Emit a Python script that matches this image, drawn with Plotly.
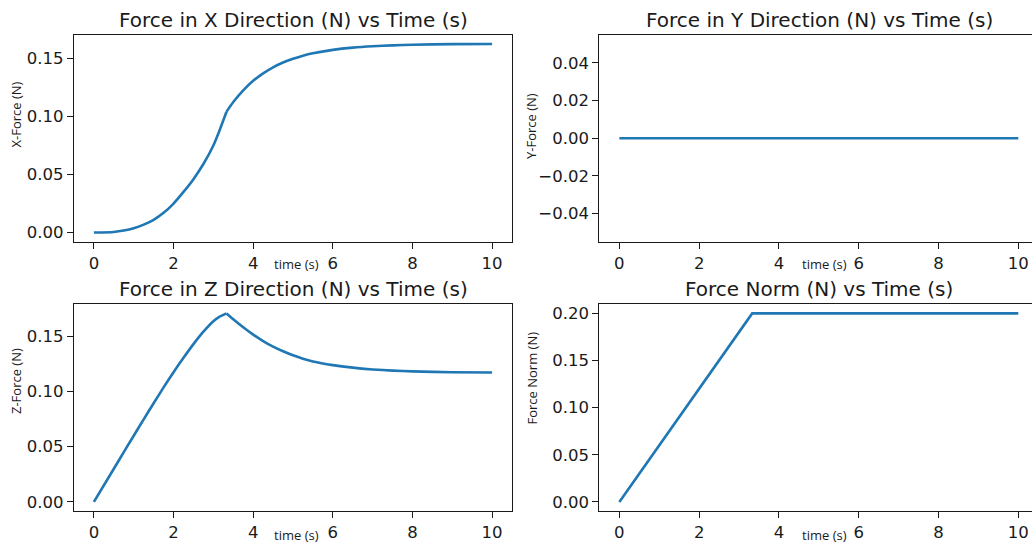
import plotly.graph_objects as go

# ---------------- data ----------------
time_s = [0, 0.5, 0.75, 1, 1.25, 1.5, 1.75, 2, 2.25, 2.5, 2.75, 3, 3.15, 3.33,
          3.5, 3.75, 4, 4.25, 4.5, 4.75, 5, 5.25, 5.5, 6, 6.5, 7, 7.5, 8, 9, 10]
force_x = [0.0, 0.0005, 0.0017, 0.0037, 0.0068, 0.011, 0.017, 0.025, 0.035, 0.046, 0.059, 0.075, 0.0875, 0.104,
           0.1124, 0.1225, 0.1307, 0.1371, 0.1423, 0.1464, 0.1496, 0.1523, 0.1544, 0.1573, 0.1592, 0.1604,
           0.1612, 0.1617, 0.1622, 0.1624]
force_z = [0.0, 0.0300, 0.0450, 0.0599, 0.0747, 0.0893, 0.1036, 0.1174, 0.1304, 0.1428, 0.1541, 0.1636, 0.1675, 0.1706,
           0.1654, 0.1581, 0.1514, 0.1456, 0.1405, 0.1363, 0.1327, 0.1296, 0.1271, 0.1238, 0.1215, 0.1199,
           0.1188, 0.1181, 0.1174, 0.1171]
kink_time = 3.33
time_y = [0, 10]
force_y = [0.0, 0.0]
time_norm = [0, 3.33, 10]
force_norm = [0.0, 0.2, 0.2]

x_ticks = [0, 2, 4, 6, 8, 10]
y_ticks_x = [0.00, 0.05, 0.10, 0.15]
y_ticks_y = [-0.04, -0.02, 0.00, 0.02, 0.04]
y_ticks_y_text = ["\u22120.04", "\u22120.02", "0.00", "0.02", "0.04"]
y_ticks_z = [0.00, 0.05, 0.10, 0.15]
y_ticks_n = [0.00, 0.05, 0.10, 0.15, 0.20]

titles = ["Force in X Direction (N) vs Time (s)", "Force in Y Direction (N) vs Time (s)",
          "Force in Z Direction (N) vs Time (s)", "Force Norm (N) vs Time (s)"]
ylabels = ["X-Force (N)", "Y-Force (N)", "Z-Force (N)", "Force Norm (N)"]
xlabel = "time (s)"

# ---------------- layout geometry ----------------
W, H = 1032, 545
BLUE = "#1f77b4"
LW = 2.6


def padded(vals, frac=0.05):
    lo, hi = min(vals), max(vals)
    if hi == lo:
        lo, hi = lo - 0.05, hi + 0.05
    p = (hi - lo) * frac
    return [lo - p, hi + p]


k = time_s.index(kink_time)
fig = go.Figure()
spl = dict(color=BLUE, width=LW, shape="spline", smoothing=0.6)
# smooth pieces meeting at the kink
fig.add_trace(go.Scatter(x=time_s[:k + 1], y=force_x[:k + 1], mode="lines", line=spl, xaxis="x", yaxis="y"))
fig.add_trace(go.Scatter(x=time_s[k:], y=force_x[k:], mode="lines", line=spl, xaxis="x", yaxis="y"))
fig.add_trace(go.Scatter(x=time_y, y=force_y, mode="lines", line=dict(color=BLUE, width=LW), xaxis="x2", yaxis="y2"))
fig.add_trace(go.Scatter(x=time_s[:k + 1], y=force_z[:k + 1], mode="lines", line=spl, xaxis="x3", yaxis="y3"))
fig.add_trace(go.Scatter(x=time_s[k:], y=force_z[k:], mode="lines", line=spl, xaxis="x3", yaxis="y3"))
fig.add_trace(go.Scatter(x=time_norm, y=force_norm, mode="lines", line=dict(color=BLUE, width=LW), xaxis="x4", yaxis="y4"))

tickfont = dict(family="DejaVu Sans", size=16.5, color="#1a1a1a")
common_ax = dict(showgrid=False, zeroline=False, showline=True, linecolor="#1a1a1a", linewidth=1.3,
                 ticks="outside", ticklen=6, tickwidth=1.3, tickcolor="#1a1a1a", tickfont=tickfont)

left_dom = [74 / W, 512 / W]
right_dom = [599.4 / W, 1.0]
top_dom = [1 - 242 / H, 1 - 34.5 / H]
bot_dom = [1 - 511.3 / H, 1 - 304 / H]

xrange_left = padded(time_s)
xrange_right = [xrange_left[0], 10 + (W - 1018.3) / 39.9]

fig.update_layout(
    width=W, height=H, margin=dict(l=0, r=0, t=0, b=0),
    paper_bgcolor="white", plot_bgcolor="white", showlegend=False,
    xaxis=dict(common_ax, domain=left_dom, anchor="y", range=xrange_left, tickvals=x_ticks, mirror=True),
    yaxis=dict(common_ax, domain=top_dom, anchor="x", range=padded(force_x), tickvals=y_ticks_x, tickformat=".2f", mirror=True),
    xaxis2=dict(common_ax, domain=right_dom, anchor="y2", range=xrange_right, tickvals=x_ticks, mirror=True),
    yaxis2=dict(common_ax, domain=top_dom, anchor="x2", range=padded(force_y), tickvals=y_ticks_y, ticktext=y_ticks_y_text),
    xaxis3=dict(common_ax, domain=left_dom, anchor="y3", range=xrange_left, tickvals=x_ticks, mirror=True),
    yaxis3=dict(common_ax, domain=bot_dom, anchor="x3", range=padded(force_z), tickvals=y_ticks_z, tickformat=".2f", mirror=True),
    xaxis4=dict(common_ax, domain=right_dom, anchor="y4", range=xrange_right, tickvals=x_ticks, mirror=True),
    yaxis4=dict(common_ax, domain=bot_dom, anchor="x4", range=padded(force_norm), tickvals=y_ticks_n, tickformat=".2f"),
)

ann = []
title_pos = [(293, 19.5), (819, 19.5), (293, 289.5), (819, 289.5)]
for t, (px, py) in zip(titles, title_pos):
    ann.append(dict(text=t, x=px / W, y=1 - py / H, xref="paper", yref="paper", showarrow=False,
                    xanchor="center", yanchor="middle", font=dict(family="DejaVu Sans", size=20, color="#1a1a1a")))
ylab_pos = [(16, 114.5), (531, 126), (16, 381), (531, 378.5)]
for t, (px, py) in zip(ylabels, ylab_pos):
    ann.append(dict(text=t, x=px / W, y=1 - py / H, xref="paper", yref="paper", showarrow=False, textangle=-90,
                    xanchor="center", yanchor="middle", font=dict(family="Open Sans", size=13, color="#1a1a1a")))
xlab_pos = [(296, 264), (824, 264), (296, 535), (824, 535)]
for px, py in xlab_pos:
    ann.append(dict(text=xlabel, x=px / W, y=1 - py / H, xref="paper", yref="paper", showarrow=False,
                    xanchor="center", yanchor="middle", font=dict(family="Open Sans", size=13, color="#1a1a1a")))
fig.update_layout(annotations=ann)

fig.write_html("out.html")
